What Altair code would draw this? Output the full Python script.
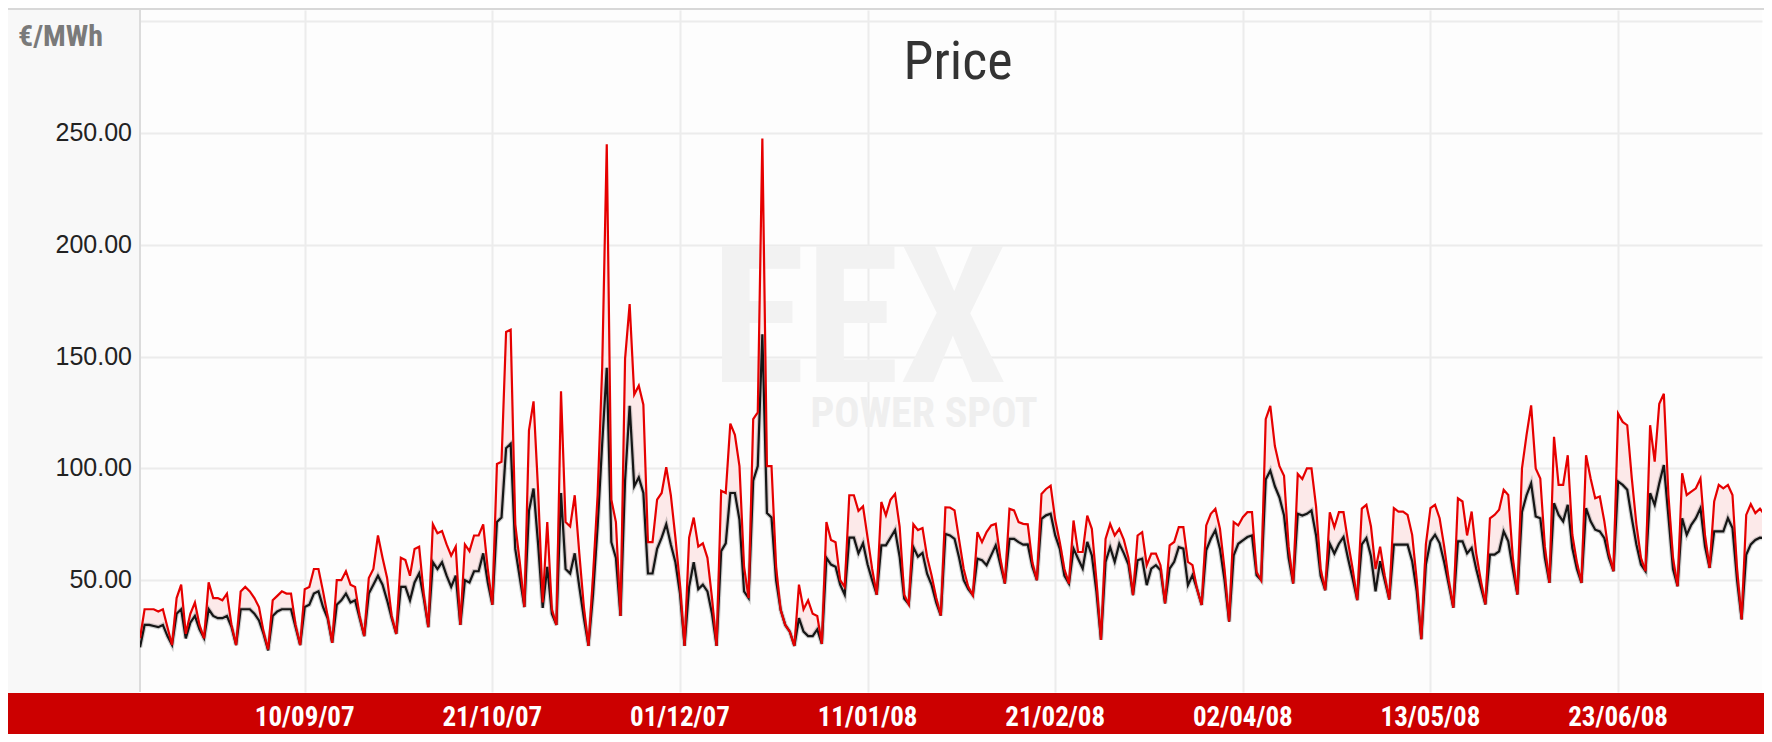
import altair as alt
import pandas as pd

# ---------------- data ----------------
start_date = "2007-08-05"

# daily peak price (red), EUR/MWh, one row = one week starting Sunday
peak = [
    24, 37, 37, 37, 36, 37, 29,
    21, 42, 48, 26, 35, 40, 30,
    24, 49, 42, 42, 41, 44, 30,
    21, 45, 47, 45, 42, 38, 27,
    19, 41, 43, 45, 44, 44, 30,
    21, 46, 47, 55, 55, 45, 34,
    22, 50, 50, 54, 48, 47, 34,
    25, 51, 55, 70, 60, 51, 34,
    26, 60, 59, 52, 64, 65, 44,
    29, 75, 71, 72, 66, 61, 65,
    30, 66, 63, 70, 70, 75, 55,
    39, 102, 103, 161, 162, 75, 58,
    38, 117, 130, 90, 40, 76, 37,
    30, 134.5, 76, 74, 88, 62, 38,
    20.6, 52, 88, 145, 245, 86, 76,
    34, 149, 173.5, 133, 137, 128.5, 67,
    67, 86, 89, 100.5, 88, 69, 48,
    20.6, 69, 78, 65, 66.5, 60, 42,
    20.6, 90, 89, 120, 115, 101, 56,
    42, 122, 125, 247.5, 101, 101, 56,
    36.7, 30, 27, 20.6, 48, 37, 41,
    35, 34, 21.5, 76, 68, 67, 50,
    47, 88, 88, 81, 83, 69, 55,
    43.5, 85, 79, 86, 88.6, 74, 43.5,
    39.3, 75, 72.4, 73.3, 60.5, 52, 42,
    34.2, 82.6, 82.5, 81.2, 68, 55, 47,
    43.3, 71.5, 67, 71.5, 74.5, 75.2, 60,
    48.5, 81.9, 81.2, 76, 75.2, 75, 58,
    50, 88.6, 90.8, 92.3, 77, 67, 55,
    48.5, 76.7, 62.6, 62.6, 78.9, 73, 50,
    23.3, 68.5, 75.2, 70, 73, 68, 60,
    43.3, 70, 71.5, 56.7, 61.9, 61.9, 56.7,
    39.6, 65.6, 67.1, 73.7, 73.7, 58.2, 56.7,
    46, 38.9, 74.5, 79.7, 81.9, 73, 55,
    31.5, 76, 74.5, 78.2, 80.4, 80.4, 53.7,
    50, 122, 128, 110, 101, 96.7, 65,
    48.5, 97.5, 95.3, 100, 100, 83, 55,
    45.5, 80.4, 73.7, 80.4, 80.4, 67, 55,
    41.1, 82, 83.7, 74, 55, 65, 52,
    41.4, 82.2, 80.7, 80.7, 79.2, 70.3, 50,
    23.6, 66, 82.2, 83.7, 77.7, 65, 50,
    37.7, 86.6, 85.2, 70, 80.7, 62, 50,
    39.2, 77.7, 79.2, 81.5, 90.4, 88.1, 60,
    43.6, 100, 115, 128.2, 100, 95.5, 65,
    48.8, 114.1, 92.6, 92.6, 105.9, 70.3, 58,
    48.8, 105.9, 95.5, 86.6, 87.4, 76.3, 62,
    54, 124.5, 120.8, 119.3, 95.5, 75, 60,
    54, 119.3, 103, 128.9, 133.4, 88.1, 60,
    47.3, 97.8, 88.1, 89.6, 91.1, 95.5, 70,
    55.5, 85.2, 92.6, 91.1, 92.6, 88.1, 55,
    32.5, 79.2, 84, 80, 82, 79.2, 51,
]

# daily base price (black), EUR/MWh
base = [
    20, 30, 30, 29.5, 29, 30, 25,
    21, 35, 37, 24, 31, 34, 28,
    24, 37, 34, 33, 33, 34, 29,
    21, 37, 37, 37, 35, 32, 26,
    18.6, 34, 36, 37, 37, 37, 29,
    21, 38, 39, 44, 45, 38, 33,
    22, 39, 41, 44, 40, 41, 33,
    25, 44, 48, 52, 48, 41, 33,
    26, 47, 47, 41, 49, 53, 42,
    29, 58, 55, 58, 52, 47, 52,
    30, 50, 49, 54, 54, 62, 49,
    39, 76, 78, 109, 111, 64, 51,
    38, 81, 91, 66, 37.6, 56, 35,
    30, 89, 55, 53, 62, 47, 33,
    20.6, 43.5, 74, 111, 145, 67, 60,
    34, 94.5, 128, 92, 96, 89, 53,
    53, 64, 69, 75, 66, 58, 44,
    20.6, 47, 58, 46, 48, 45, 35,
    20.6, 63, 66.5, 89, 89, 77, 45,
    42, 94.5, 101, 160, 80, 78, 50,
    36.7, 30, 27, 20.6, 33, 27, 25,
    25, 28, 21.5, 60, 57, 56, 48,
    43.5, 69, 69, 62, 66.5, 57, 50,
    43.5, 65.6, 65.6, 69, 72.4, 60.5, 41.8,
    39.3, 64.8, 60.5, 62.2, 52.9, 47.8, 40,
    34.2, 70.7, 70, 68.5, 60, 50, 46,
    43.3, 59.6, 58.9, 56.7, 61.1, 65.6, 57,
    48.5, 68.5, 68.5, 67, 65.9, 66, 56,
    50, 77.4, 79, 79.7, 70, 64, 52,
    48.5, 64.1, 59.6, 55.2, 67.1, 61.1, 45,
    23.3, 58.2, 64.8, 58.2, 66.3, 62, 57,
    43.3, 58.9, 59.6, 47.8, 55.2, 56.7, 54.5,
    39.6, 55.2, 58.2, 64.8, 64.1, 47.8, 52.2,
    46, 38.9, 63.4, 68.5, 72.3, 64, 50,
    31.5, 61.1, 66.3, 67.8, 69.3, 70, 52.2,
    50, 95, 99, 92, 87, 79, 60,
    48.5, 79.7, 78.9, 79.7, 81.2, 70, 52,
    45.5, 66.3, 61.9, 66.3, 69.3, 59.6, 50.7,
    41.1, 66, 68.8, 60.7, 45, 58.5, 50,
    41.4, 65.9, 65.9, 65.9, 65.9, 58.5, 45,
    23.6, 57, 67.4, 70.3, 66.6, 58, 48,
    37.7, 67.4, 67.4, 62, 64.4, 55, 47,
    39.2, 61.4, 61.4, 62.9, 71.8, 67.4, 55,
    43.6, 80.5, 88, 93.3, 78.5, 77.7, 60,
    48.8, 84.4, 79.2, 76.3, 83.7, 64.4, 55,
    48.8, 82.2, 76.3, 72.6, 71.8, 68.8, 60,
    54, 94.1, 92.6, 90.4, 77.7, 66, 57,
    54, 88.9, 83.7, 93.3, 101.5, 78.5, 55,
    47.3, 77.7, 70.3, 74.8, 77.7, 82.2, 65,
    55.5, 71.8, 71.8, 71.8, 77.7, 73.3, 50,
    32.5, 61.4, 66, 68, 69, 68.8, 45.1,
]

tick_dates = ["2007-09-10", "2007-10-21", "2007-12-01", "2008-01-11",
              "2008-02-21", "2008-04-02", "2008-05-13", "2008-06-23"]
tick_labels = ["10/09/07", "21/10/07", "01/12/07", "11/01/08",
               "21/02/08", "02/04/08", "13/05/08", "23/06/08"]
y_grid_values = [50, 100, 150, 200, 250, 300]
y_label_values = [50, 100, 150, 200, 250]
y_label_texts = ["50.00", "100.00", "150.00", "200.00", "250.00"]

title_text = "Price"
unit_text = "€/MWh"
watermark_big = "EEX"
watermark_small = "POWER SPOT"

# ---------------- layout ----------------
W, H = 1622, 682
LEFT, TOP, BOTTOM = 132, 2, 42
DAYS_VISIBLE = 354.45

COND = "Noto Sans Condensed, Roboto Condensed, Open Sans Condensed, Liberation Sans, sans-serif"
REGULAR = "Liberation Sans, Arial, sans-serif"

dates = pd.date_range(start_date, periods=len(peak), freq="D").strftime("%Y-%m-%d")
df = pd.DataFrame({"date": list(dates), "peak": peak, "base": base})

t0 = pd.Timestamp(start_date, tz="UTC")
x_domain = [int(t0.value // 10**6),
            int((t0 + pd.Timedelta(days=DAYS_VISIBLE)).value // 10**6)]
tick_ms = [int(pd.Timestamp(d, tz="UTC").value // 10**6) for d in tick_dates]

x_axis = alt.Axis(values=tick_ms, grid=True, gridColor="#ececec", gridWidth=2,
                  labels=False, ticks=False, domain=False, title=None)
y_axis = alt.Axis(values=y_grid_values, grid=True, gridColor="#ececec", gridWidth=2,
                  labels=False, ticks=False, domain=False, title=None)
x_scale = alt.Scale(type="utc", domain=x_domain)
y_scale = alt.Scale(domain=[0, 305], nice=False, zero=True)

X = alt.X("date:T", scale=x_scale, axis=x_axis)
Y_peak = alt.Y("peak:Q", scale=y_scale, axis=y_axis)
Y_base = alt.Y("base:Q", scale=y_scale, axis=y_axis)

one = pd.DataFrame({"k": [0]})

# decorations around the plot
left_panel = alt.Chart(one).mark_rect(color="#f8f8f8").encode(
    x=alt.value(-LEFT), x2=alt.value(-1), y=alt.value(0), y2=alt.value(H + 1))
left_line = alt.Chart(one).mark_rule(color="#dcdcdc", strokeWidth=2).encode(
    x=alt.value(0), y=alt.value(0), y2=alt.value(H))
top_line = alt.Chart(one).mark_rule(color="#d8d8d8", strokeWidth=2).encode(
    x=alt.value(-LEFT), x2=alt.value(W + 2), y=alt.value(-1))
band = alt.Chart(one).mark_rect(color="#cc0000").encode(
    x=alt.value(-LEFT), x2=alt.value(W + 2), y=alt.value(H + 1), y2=alt.value(H + BOTTOM))

# watermark
wm1 = alt.Chart(pd.DataFrame({"t": [watermark_big]})).mark_text(
    font=COND, fontWeight="bold", fontSize=192, color="#f2f2f2",
    align="center", baseline="alphabetic").encode(
    text="t:N", x=alt.value(719), y=alt.value(372))
wm2 = alt.Chart(pd.DataFrame({"t": [watermark_small]})).mark_text(
    font=COND, fontWeight="bold", fontSize=42, color="#efefef",
    align="center", baseline="alphabetic").encode(
    text="t:N", x=alt.value(784), y=alt.value(417))

# data
area = alt.Chart(df).mark_area(color="#fce9e9", clip=True).encode(
    x=X, y=Y_peak, y2="base:Q")
base_shadow = alt.Chart(df).mark_line(color="#777777", strokeWidth=4.5, opacity=0.35,
                                      clip=True).encode(x=X, y=Y_base)
base_line = alt.Chart(df).mark_line(color="#151515", strokeWidth=2.2, clip=True).encode(
    x=X, y=Y_base)
peak_line = alt.Chart(df).mark_line(color="#e60000", strokeWidth=2.2, clip=True).encode(
    x=X, y=Y_peak)

# texts
title = alt.Chart(pd.DataFrame({"t": [title_text]})).mark_text(
    font=COND, fontSize=54, color="#333333", align="center", baseline="alphabetic").encode(
    text="t:N", x=alt.value(818), y=alt.value(69))
unit = alt.Chart(pd.DataFrame({"t": [unit_text]})).mark_text(
    font=COND, fontWeight="bold", fontSize=30, color="#7a7a7a", align="left",
    baseline="alphabetic").encode(text="t:N", x=alt.value(-122), y=alt.value(36))

ylabels = alt.Chart(pd.DataFrame({"v": y_label_values, "t": y_label_texts})).mark_text(
    font=REGULAR, fontSize=25, color="#222222", align="right", baseline="middle").encode(
    y=alt.Y("v:Q", scale=y_scale, axis=y_axis), x=alt.value(-8), text="t:N")
xlabels = alt.Chart(pd.DataFrame({"d": tick_dates, "t": tick_labels})).mark_text(
    font=COND, fontWeight="bold", fontSize=27, color="#ffffff", align="center",
    baseline="middle").encode(
    x=alt.X("d:T", scale=x_scale, axis=x_axis), y=alt.value(H + 26), text="t:N")

chart = alt.layer(
    left_panel, left_line, top_line, band, wm1, wm2,
    area, base_shadow, base_line, peak_line,
    title, unit, ylabels, xlabels,
).properties(
    width=W, height=H,
    autosize=alt.AutoSizeParams(type="none"),
    padding={"left": LEFT, "top": TOP, "right": 2, "bottom": BOTTOM},
    background="#ffffff",
).configure_view(stroke=None, fill="#fdfdfd")

chart.save("out.html", embed_options={"renderer": "svg", "actions": False})
